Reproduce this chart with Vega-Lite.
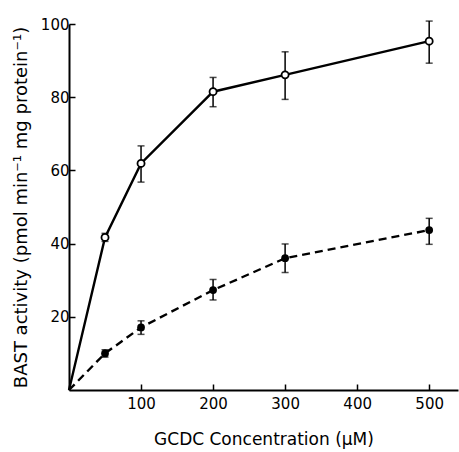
{
  "$schema": "https://vega.github.io/schema/vega-lite/v6.json",
  "width": 389,
  "height": 366,
  "autosize": "none",
  "padding": {"left": 69, "top": 24, "right": 1, "bottom": 62},
  "background": "white",
  "config": {
    "view": {"stroke": null},
    "font": "DejaVu Sans",
    "axis": {
      "domainColor": "black",
      "domainWidth": 2,
      "tickColor": "black",
      "tickWidth": 1.5,
      "grid": false,
      "labelColor": "black",
      "titleColor": "black",
      "labelFont": "DejaVu Sans",
      "titleFont": "DejaVu Sans",
      "labelFontSize": 15,
      "titleFontSize": 17,
      "titleFontWeight": "normal"
    }
  },
  "data": {
    "values": [
      {"series": "control", "x": 0, "y": 0},
      {"series": "control", "x": 50, "y": 41.7, "lo": 40.6, "hi": 42.8},
      {"series": "control", "x": 100, "y": 61.9, "lo": 56.8, "hi": 66.7},
      {"series": "control", "x": 200, "y": 81.5, "lo": 77.4, "hi": 85.4},
      {"series": "control", "x": 300, "y": 86.1, "lo": 79.4, "hi": 92.4},
      {"series": "control", "x": 500, "y": 95.3, "lo": 89.3, "hi": 100.8},
      {"series": "treated", "x": 0, "y": 0},
      {"series": "treated", "x": 50, "y": 10.0, "lo": 9.0, "hi": 11.0},
      {"series": "treated", "x": 100, "y": 17.1, "lo": 15.2, "hi": 18.9},
      {"series": "treated", "x": 200, "y": 27.3, "lo": 24.6, "hi": 30.2},
      {"series": "treated", "x": 300, "y": 36.0, "lo": 32.1, "hi": 39.9},
      {"series": "treated", "x": 500, "y": 43.7, "lo": 39.8, "hi": 46.9}
    ]
  },
  "encoding": {
    "x": {
      "field": "x", "type": "quantitative",
      "scale": {"domain": [0, 540], "nice": false},
      "axis": {
        "values": [100, 200, 300, 400, 500],
        "tickSize": -6,
        "labelPadding": 12,
        "title": "GCDC Concentration (μM)",
        "titlePadding": 20
      }
    },
    "y": {
      "field": "y", "type": "quantitative",
      "scale": {"domain": [0, 100], "nice": false},
      "axis": {
        "values": [20, 40, 60, 80, 100],
        "tickSize": -6,
        "labelPadding": 6,
        "title": "BAST activity (pmol min⁻¹ mg protein⁻¹)",
        "titleFontSize": 18,
        "titlePadding": 10
      }
    }
  },
  "layer": [
    {
      "transform": [{"filter": "isValid(datum.lo)"}],
      "mark": {"type": "rule", "color": "black", "strokeWidth": 1.5},
      "encoding": {"y": {"field": "lo", "type": "quantitative"}, "y2": {"field": "hi"}}
    },
    {
      "transform": [{"filter": "isValid(datum.lo)"}],
      "mark": {"type": "tick", "orient": "horizontal", "color": "black", "size": 7, "thickness": 1.5},
      "encoding": {"y": {"field": "lo", "type": "quantitative"}}
    },
    {
      "transform": [{"filter": "isValid(datum.hi)"}],
      "mark": {"type": "tick", "orient": "horizontal", "color": "black", "size": 7, "thickness": 1.5},
      "encoding": {"y": {"field": "hi", "type": "quantitative"}}
    },
    {
      "transform": [{"filter": "datum.series == 'control'"}],
      "mark": {"type": "line", "color": "black", "strokeWidth": 2.4},
      "encoding": {}
    },
    {
      "transform": [{"filter": "datum.series == 'treated'"}],
      "mark": {"type": "line", "color": "black", "strokeWidth": 2.4, "strokeDash": [8, 5]},
      "encoding": {}
    },
    {
      "transform": [{"filter": "datum.series == 'control' && datum.x > 0"}],
      "mark": {"type": "point", "shape": "circle", "filled": true, "fill": "white", "stroke": "black", "strokeWidth": 1.8, "size": 50, "opacity": 1},
      "encoding": {}
    },
    {
      "transform": [{"filter": "datum.series == 'treated' && datum.x > 0"}],
      "mark": {"type": "point", "shape": "circle", "filled": true, "color": "black", "size": 60, "opacity": 1},
      "encoding": {}
    }
  ]
}
